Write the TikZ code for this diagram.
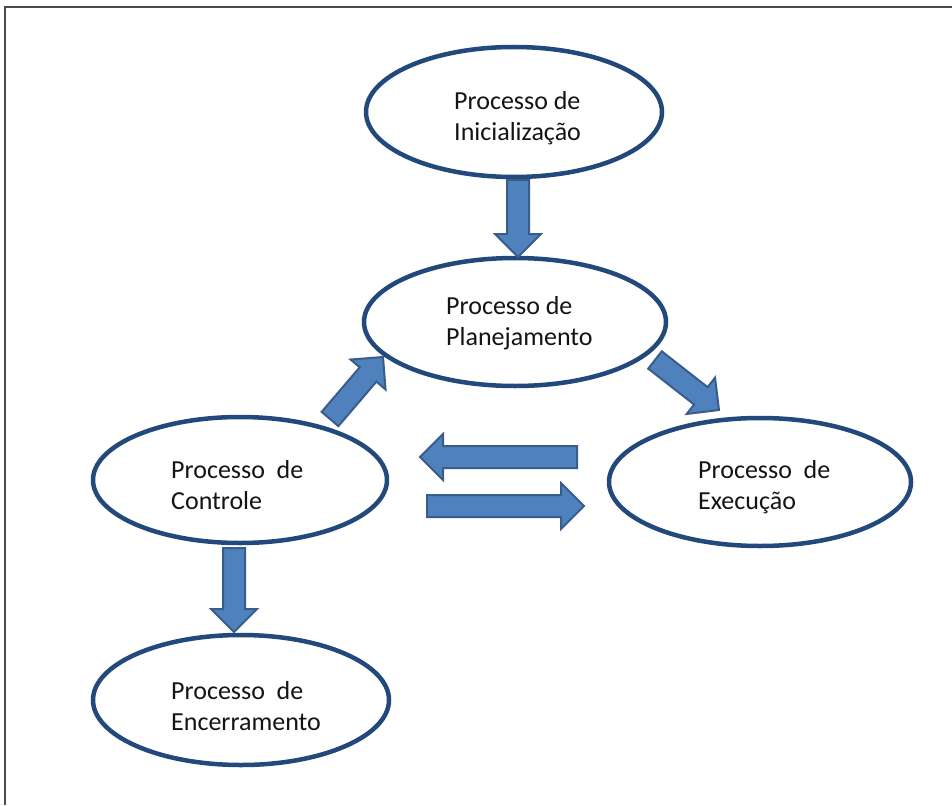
\documentclass[tikz,border=0pt]{standalone}
\usepackage{fontspec}
\setmainfont{Carlito}
\usetikzlibrary{calc,shapes.geometric}
\definecolor{ellline}{HTML}{23497C}
\definecolor{arrfill}{HTML}{4F81BD}
\definecolor{arrline}{HTML}{385D8A}
\definecolor{frameline}{HTML}{4A4A4A}
\definecolor{txt}{HTML}{141414}
\tikzset{
  proc/.style={draw=ellline, line width=4.5pt, ellipse, inner sep=0pt},
  lbl/.style={anchor=west, align=left, text=txt, font=\fontsize{26}{30.5}\selectfont, inner sep=0pt},
  barrow/.style={draw=arrline, fill=arrfill, line width=2pt, line join=miter,
    to path={let \p1=(\tikztostart), \p2=(\tikztotarget), \n1={atan2(\y2-\y1,\x2-\x1)} in
      ($(\p1)+(\n1+90:11pt)$)
      -- ($(\p2)+(\n1+180:23pt)+(\n1+90:11pt)$)
      -- ($(\p2)+(\n1+180:23pt)+(\n1+90:23pt)$)
      -- (\p2)
      -- ($(\p2)+(\n1+180:23pt)+(\n1-90:23pt)$)
      -- ($(\p2)+(\n1+180:23pt)+(\n1-90:11pt)$)
      -- ($(\p1)+(\n1-90:11pt)$) -- cycle}}
}
\begin{document}
\begin{tikzpicture}[x=1pt,y=-1pt]
\useasboundingbox (0,0) rectangle (952,805);
\fill[white] (0,0) rectangle (952,805);
% frame
\draw[frameline, line width=1.6pt] (5,805) -- (5,7) -- (952,7);
% processes
\node[proc, minimum width=296pt, minimum height=130pt] (ini) at (514,112) {};
\node[proc, minimum width=302pt, minimum height=128pt] (plan) at (515,322) {};
\node[proc, minimum width=294pt, minimum height=126pt] (ctrl) at (240,480) {};
\node[proc, minimum width=302pt, minimum height=128pt] (exec) at (760,482) {};
\node[proc, minimum width=296pt, minimum height=130pt] (enc) at (241,700) {};
% labels
\node[lbl] (tini) at (454,118) {Processo de\\Inicialização};
\node[lbl] (tplan) at (446,323) {Processo de\\Planejamento};
\node[lbl] (tctrl) at (171,485) {Processo\ \ de\\Controle};
\node[lbl] (texec) at (698,487) {Processo\ \ de\\Execução};
\node[lbl] (tenc) at (171,706) {Processo\ \ de\\Encerramento};
% arrow end points
\coordinate (a1s) at (518,180);
\coordinate (a1e) at (518,257);
\coordinate (a2s) at (330,419);
\coordinate (a2e) at (383,357);
\coordinate (a3s) at (655,360);
\coordinate (a3e) at (719,410);
\coordinate (a4s) at (577,457);
\coordinate (a4e) at (420,457);
\coordinate (a5s) at (427,506);
\coordinate (a5e) at (584,506);
\coordinate (a6s) at (234,548);
\coordinate (a6e) at (234,632);
% block arrows
\draw[barrow] (a1s) to (a1e);
\draw[barrow] (a2s) to (a2e);
\draw[barrow] (a3s) to (a3e);
\draw[barrow] (a4s) to (a4e);
\draw[barrow] (a5s) to (a5e);
\draw[barrow] (a6s) to (a6e);
\end{tikzpicture}
\end{document}
